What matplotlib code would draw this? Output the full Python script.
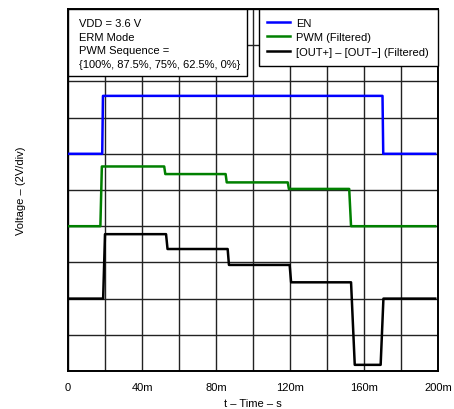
import matplotlib
matplotlib.use("Agg")
import matplotlib.pyplot as plt
from matplotlib.patches import Rectangle
from matplotlib.ticker import MultipleLocator

plt.rcParams["font.family"] = ["Liberation Sans", "DejaVu Sans"]

# Tiempos en ms, niveles en divisiones (2 V/div)
t_en = [0, 18.5, 18.9, 170.0, 170.4, 198.5]
v_en = [6.0, 6.0, 7.6, 7.6, 6.0, 6.0]

t_pwm = [0, 17.5, 18.3, 52.0, 52.6, 85.2, 85.8, 118.8, 119.4, 152.0, 153.0, 198.5]
v_pwm = [4.0, 4.0, 5.65, 5.65, 5.44, 5.44, 5.21, 5.21, 5.03, 5.03, 4.0, 4.0]

t_out = [0, 19.0, 20.0, 53.0, 53.8, 86.3, 87.0, 119.8, 120.6, 153.0, 155.0, 169.0, 170.5, 198.5]
v_out = [2.0, 2.0, 3.78, 3.78, 3.37, 3.37, 2.93, 2.93, 2.45, 2.45, 0.17, 0.17, 2.0, 2.0]

x_ticks = [0, 40, 80, 120, 160, 200]
x_labels = ["0", "40m", "80m", "120m", "160m", "200m"]

notas = ["VDD = 3.6 V", "ERM Mode", "PWM Sequence =", "{100%, 87.5%, 75%, 62.5%, 0%}"]

fig = plt.figure(figsize=(4.54, 4.10), dpi=100)
ax = fig.add_axes([68 / 454, 38 / 410, 370 / 454, 362 / 410])

ax.plot(t_en, v_en, color="#0000ff", lw=1.8, label="EN", zorder=3)
ax.plot(t_pwm, v_pwm, color="#008000", lw=1.8, label="PWM (Filtered)", zorder=3)
ax.plot(t_out, v_out, color="black", lw=1.8, label="[OUT+] \u2013 [OUT\u2212] (Filtered)", zorder=3)

ax.set_xlim(0, 200)
ax.set_ylim(0, 10)
ax.yaxis.set_major_locator(MultipleLocator(1))
ax.set_xticks(x_ticks, x_labels)
ax.xaxis.set_minor_locator(MultipleLocator(20))
ax.grid(True, which="both", color="#222222", lw=1.0, zorder=1)
ax.set_axisbelow(True)
ax.tick_params(axis="both", which="both", length=0, labelsize=8, pad=8)
ax.set_yticklabels([])
for s in ax.spines.values():
    s.set_linewidth(1.4)

ax.set_xlabel("t \u2013 Time \u2013 s", fontsize=8, labelpad=4)
ax.set_ylabel("Voltage \u2013 (2V/div)", fontsize=8, labelpad=22)

# cuadro de condiciones
ax.add_patch(Rectangle((0, 0.815), 0.484, 0.185, transform=ax.transAxes,
                       facecolor="white", edgecolor="black", lw=1.0, zorder=4))
for i, linea in enumerate(notas):
    ax.text(0.03, 0.96 - i * 0.037, linea, transform=ax.transAxes, fontsize=8,
            va="center", ha="left", zorder=5)

leg = ax.legend(loc="upper right", bbox_to_anchor=(1.0, 1.0), borderaxespad=0,
                fontsize=8, fancybox=False, framealpha=1, edgecolor="black",
                handlelength=2.0, handletextpad=0.6, labelspacing=0.4,
                borderpad=0.8)
leg.get_frame().set_linewidth(1.0)
leg.set_zorder(6)

fig.savefig("out.png", dpi=100)
